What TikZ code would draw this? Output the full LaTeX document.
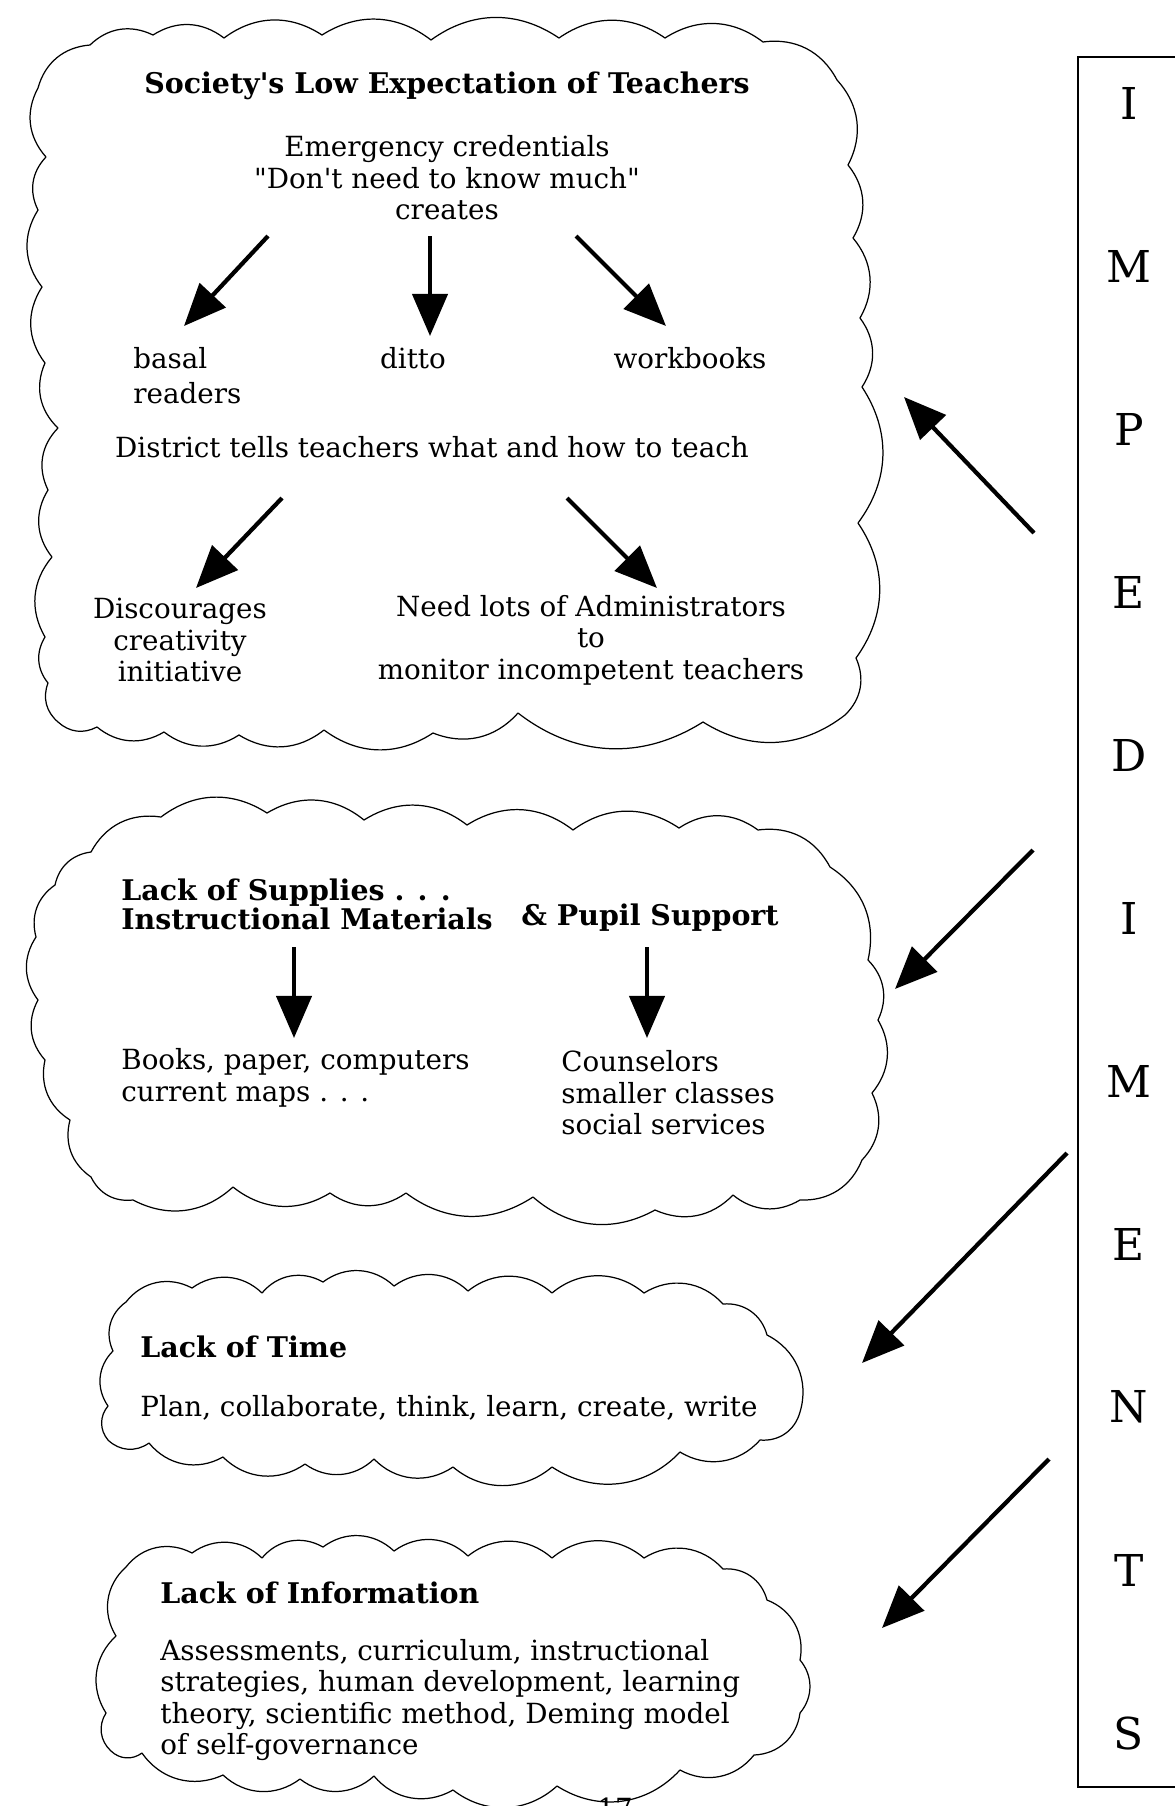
\documentclass[tikz,border=0pt]{standalone}
\usepackage{tikz}
\usepackage{fontspec}
\setmainfont{DejaVu Serif}
\usetikzlibrary{arrows.meta, positioning}
% straight quotes, without the TeX ligature mapping
\font\plainq="DejaVu Serif" at 15.8pt
\font\plainqb="DejaVu Serif/B" at 16.2pt

\begin{document}
\begin{tikzpicture}[x=0.02cm, y=-0.02cm,
  cloudline/.style={line width=0.7pt, line join=round},
  bigarrow/.style={line width=2.4pt, -{Triangle[length=24pt, width=20pt]}},
  bodytext/.style={font=\fontsize{15.8}{18}\selectfont, inner sep=0pt},
  headtext/.style={font=\fontsize{16.2}{16.5}\selectfont\bfseries, inner sep=0pt},
  letter/.style={font=\fontsize{25}{25}\selectfont, inner sep=0pt}]
\useasboundingbox (0,0) rectangle (1175,1806);

% Cloud outlines (scallops between cusp points)
\draw[cloudline] (38,88)
  \foreach \x/\y in {90/45, 153/35, 224/38, 322/35, 431/40, 559/38, 665/38, 763/42, 837/80,
                     848/165, 853/238, 860/318, 862/387, 858/523, 856/658, 845/715,
                     703/722, 518/713, 433/733, 324/730, 239/735, 164/732, 97/727, 58/722,
                     48/683, 45/637, 52/557, 48/490, 58/428, 45/363, 42/287, 38/210, 46/157, 38/88}
  { to[bend left=35] (\x,\y) } -- cycle;

\draw[cloudline] (91,852)
  \foreach \x/\y in {161/817, 267/813, 364/820, 467/825, 573/830, 679/828, 758/830, 830/867,
                     868/960, 878/1020, 872/1093, 862/1160, 800/1200,
                     733/1195, 655/1210, 533/1197, 406/1193, 330/1193, 233/1187, 133/1200, 91/1177,
                     70/1120, 45/1060, 38/1000, 36/937, 55/885, 91/852}
  { to[bend left=35] (\x,\y) } -- cycle;

\draw[cloudline] (126,1302)
  \foreach \x/\y in {192/1288, 262/1293, 323/1282, 394/1286, 468/1291, 552/1293, 644/1293, 723/1304,
                     767/1335, 800/1412, 760/1440,
                     680/1452, 552/1467, 453/1467, 374/1459, 305/1464, 223/1457, 149/1443, 108/1440,
                     108/1406, 113/1351, 126/1302}
  { to[bend left=40] (\x,\y) } -- cycle;

\draw[cloudline] (126,1567)
  \foreach \x/\y in {192/1553, 262/1558, 323/1547, 394/1551, 468/1556, 552/1558, 644/1558, 723/1569,
                     767/1600, 800/1660, 800/1713, 754/1755,
                     680/1770, 557/1786, 453/1790, 374/1776, 300/1779, 223/1775, 142/1753, 111/1751,
                     106/1713, 116/1636, 126/1567}
  { to[bend left=40] (\x,\y) } -- cycle;

% First cloud
\node[headtext] (lowexp) at (447,86) {Society{\plainqb'}s Low Expectation of Teachers};
\node[bodytext, align=center] (emerg) at (447,178)
  {Emergency credentials\\{\plainq"}Don{\plainq'}t need to know much{\plainq"}\\creates};
\node[bodytext, align=left, anchor=west] (basal) at (133,376) {basal\\[2pt]readers};
\node[bodytext] (ditto) at (413,358) {ditto};
\node[bodytext] (workbk) at (690,358) {workbooks};
\node[bodytext] (district) at (432,447) {District tells teachers what and how to teach};
\node[bodytext, align=center] (discour) at (180,640) {Discourages\\creativity\\initiative};
\node[bodytext, align=center] (admins) at (591,640) {Need lots of Administrators\\to\\monitor incompetent teachers};

% Second cloud
\node[headtext, align=left, anchor=west] (supplies) at (121,904) {Lack of Supplies . . .\\Instructional Materials};
\node[headtext] (pupil) at (650,918) {\& Pupil Support};
\node[bodytext, align=left, anchor=west] (books) at (121,1078) {Books, paper, computers\\current maps . . .};
\node[bodytext, align=left, anchor=west] (counsel) at (561,1093) {Counselors\\smaller classes\\social services};

% Third and fourth clouds
\node[headtext, anchor=west] (time) at (140,1347) {Lack of Time};
\node[bodytext, anchor=west] (plan) at (140,1408) {Plan, collaborate, think, learn, create, write};
\node[headtext, anchor=west] (info) at (160,1593) {Lack of Information};
\node[bodytext, align=left, anchor=west] (infolist) at (160,1700)
  {Assessments, curriculum, instructional\\strategies, human development, learning\\theory, scientific method, Deming model\\of self-governance};

% IMPEDIMENTS column
\draw[line width=1pt] (1078,57) rectangle (1200,1787);
\foreach \ch [count=\k from 0] in {I,M,P,E,D,I,M,E,N,T,S}
  \node[letter] (ltr\k) at (1129,{103+163*\k}) {\ch};

% Arrows
\foreach \sx/\sy/\ex/\ey/\n in {268/236/184/326/1, 430/236/430/336/2, 576/236/666/326/3,
                                282/498/196/588/4, 567/498/657/588/5,
                                294/947/294/1038/6, 647/947/647/1038/7,
                                1034/533/904/397/8, 1033/850/895/989/9,
                                1067/1153/862/1363/10, 1049/1459/882/1628/11} {
  \coordinate (s\n) at (\sx,\sy);
  \coordinate (e\n) at (\ex,\ey);
  \draw[bigarrow] (s\n) -- (e\n);
}

% page number
\node[bodytext, anchor=north west] (pagenum) at (597,1798) {17};
\end{tikzpicture}
\end{document}
